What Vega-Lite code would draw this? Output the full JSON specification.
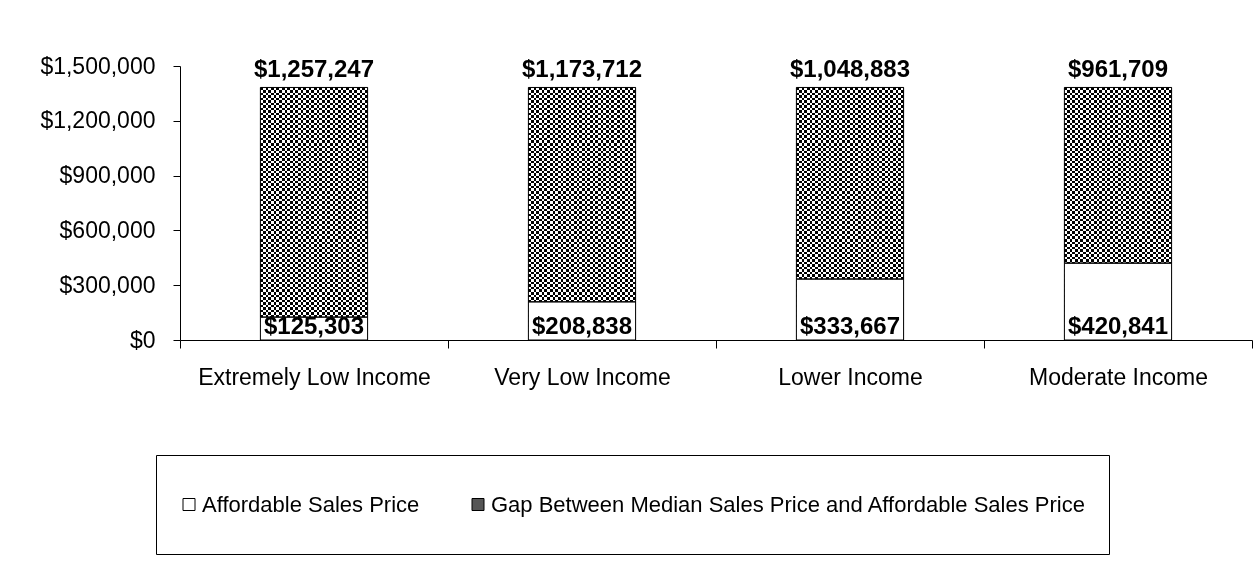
{
  "$schema": "https://vega.github.io/schema/vega-lite/v6.json",
  "width": 1072,
  "height": 274,
  "autosize": "none",
  "padding": {"left": 180, "top": 66, "right": 6, "bottom": 246},
  "background": "white",
  "config": {"view": {"stroke": null}, "font": "Liberation Sans"},
  "data": {
    "values": [
      {"category": "Extremely Low Income", "series": "Affordable Sales Price", "value": 125303},
      {"category": "Extremely Low Income", "series": "Gap Between Median Sales Price and Affordable Sales Price", "value": 1257247},
      {"category": "Very Low Income", "series": "Affordable Sales Price", "value": 208838},
      {"category": "Very Low Income", "series": "Gap Between Median Sales Price and Affordable Sales Price", "value": 1173712},
      {"category": "Lower Income", "series": "Affordable Sales Price", "value": 333667},
      {"category": "Lower Income", "series": "Gap Between Median Sales Price and Affordable Sales Price", "value": 1048883},
      {"category": "Moderate Income", "series": "Affordable Sales Price", "value": 420841},
      {"category": "Moderate Income", "series": "Gap Between Median Sales Price and Affordable Sales Price", "value": 961709}
    ]
  },
  "transform": [
    {"stack": "value", "groupby": ["category"], "sort": [{"field": "series", "order": "ascending"}], "as": ["v0", "v1"]}
  ],
  "encoding": {
    "x": {
      "field": "category",
      "type": "nominal",
      "sort": ["Extremely Low Income", "Very Low Income", "Lower Income", "Moderate Income"],
      "scale": {"paddingInner": 0, "paddingOuter": 0},
      "axis": {
        "title": null,
        "labelAngle": 0,
        "labelLimit": 500,
        "tickBand": "extent",
        "domainColor": "black",
        "tickColor": "black",
        "tickSize": 8,
        "labelFontSize": 23,
        "labelColor": "black",
        "labelPadding": 18,
        "labelFont": "Liberation Sans"
      }
    },
    "y": {
      "field": "v1",
      "type": "quantitative",
      "scale": {"domain": [0, 1500000]},
      "axis": {
        "title": null,
        "values": [0, 300000, 600000, 900000, 1200000, 1500000],
        "format": "$,.0f",
        "grid": false,
        "domainColor": "black",
        "tickColor": "black",
        "tickSize": 7,
        "labelFontSize": 23,
        "labelColor": "black",
        "labelPadding": 18,
        "labelFont": "Liberation Sans"
      }
    }
  },
  "layer": [
    {
      "mark": {"type": "bar", "width": {"band": 0.4}},
      "encoding": {
        "y2": {"field": "v0"},
        "color": {
          "field": "series",
          "type": "nominal",
          "scale": {
            "domain": ["Affordable Sales Price", "Gap Between Median Sales Price and Affordable Sales Price"],
            "range": ["#ffffff", "#555555"]
          },
          "legend": {
            "title": null,
            "orient": "none",
            "legendX": -24,
            "legendY": 389,
            "direction": "horizontal",
            "symbolType": "square",
            "symbolSize": 144,
            "symbolStrokeColor": "black",
            "symbolStrokeWidth": 1,
            "symbolOpacity": 1,
            "labelFontSize": 22,
            "labelColor": "black",
            "labelFont": "Liberation Sans",
            "labelLimit": 1000,
            "columnPadding": 47,
            "labelOffset": 2,
            "padding": 22,
            "strokeColor": "black",
            "clipHeight": 55
          }
        }
      }
    },
    {
      "transform": [{"filter": "datum.series != 'Affordable Sales Price'"}],
      "mark": {
        "type": "bar",
        "width": {"band": 0.4},
        "fill": {
          "gradient": "linear", "x1": 0, "y1": 0, "x2": 0, "y2": 1,
          "stops": [
            {"offset": 0, "color": "#000"}, {"offset": 0.01, "color": "#000"},
            {"offset": 0.01, "color": "#fff"}, {"offset": 0.02, "color": "#fff"},
            {"offset": 0.02, "color": "#000"}, {"offset": 0.03, "color": "#000"},
            {"offset": 0.03, "color": "#fff"}, {"offset": 0.04, "color": "#fff"},
            {"offset": 0.04, "color": "#000"}, {"offset": 0.05, "color": "#000"},
            {"offset": 0.05, "color": "#fff"}, {"offset": 0.06, "color": "#fff"},
            {"offset": 0.06, "color": "#000"}, {"offset": 0.07, "color": "#000"},
            {"offset": 0.07, "color": "#fff"}, {"offset": 0.08, "color": "#fff"},
            {"offset": 0.08, "color": "#000"}, {"offset": 0.09, "color": "#000"},
            {"offset": 0.09, "color": "#fff"}, {"offset": 0.10, "color": "#fff"},
            {"offset": 0.10, "color": "#000"}, {"offset": 0.11, "color": "#000"},
            {"offset": 0.11, "color": "#fff"}, {"offset": 0.12, "color": "#fff"},
            {"offset": 0.12, "color": "#000"}, {"offset": 0.13, "color": "#000"},
            {"offset": 0.13, "color": "#fff"}, {"offset": 0.14, "color": "#fff"},
            {"offset": 0.14, "color": "#000"}, {"offset": 0.15, "color": "#000"},
            {"offset": 0.15, "color": "#fff"}, {"offset": 0.16, "color": "#fff"},
            {"offset": 0.16, "color": "#000"}, {"offset": 0.17, "color": "#000"},
            {"offset": 0.17, "color": "#fff"}, {"offset": 0.18, "color": "#fff"},
            {"offset": 0.18, "color": "#000"}, {"offset": 0.19, "color": "#000"},
            {"offset": 0.19, "color": "#fff"}, {"offset": 0.20, "color": "#fff"},
            {"offset": 0.20, "color": "#000"}, {"offset": 0.21, "color": "#000"},
            {"offset": 0.21, "color": "#fff"}, {"offset": 0.22, "color": "#fff"},
            {"offset": 0.22, "color": "#000"}, {"offset": 0.23, "color": "#000"},
            {"offset": 0.23, "color": "#fff"}, {"offset": 0.24, "color": "#fff"},
            {"offset": 0.24, "color": "#000"}, {"offset": 0.25, "color": "#000"},
            {"offset": 0.25, "color": "#fff"}, {"offset": 0.26, "color": "#fff"},
            {"offset": 0.26, "color": "#000"}, {"offset": 0.27, "color": "#000"},
            {"offset": 0.27, "color": "#fff"}, {"offset": 0.28, "color": "#fff"},
            {"offset": 0.28, "color": "#000"}, {"offset": 0.29, "color": "#000"},
            {"offset": 0.29, "color": "#fff"}, {"offset": 0.30, "color": "#fff"},
            {"offset": 0.30, "color": "#000"}, {"offset": 0.31, "color": "#000"},
            {"offset": 0.31, "color": "#fff"}, {"offset": 0.32, "color": "#fff"},
            {"offset": 0.32, "color": "#000"}, {"offset": 0.33, "color": "#000"},
            {"offset": 0.33, "color": "#fff"}, {"offset": 0.34, "color": "#fff"},
            {"offset": 0.34, "color": "#000"}, {"offset": 0.35, "color": "#000"},
            {"offset": 0.35, "color": "#fff"}, {"offset": 0.36, "color": "#fff"},
            {"offset": 0.36, "color": "#000"}, {"offset": 0.37, "color": "#000"},
            {"offset": 0.37, "color": "#fff"}, {"offset": 0.38, "color": "#fff"},
            {"offset": 0.38, "color": "#000"}, {"offset": 0.39, "color": "#000"},
            {"offset": 0.39, "color": "#fff"}, {"offset": 0.40, "color": "#fff"},
            {"offset": 0.40, "color": "#000"}, {"offset": 0.41, "color": "#000"},
            {"offset": 0.41, "color": "#fff"}, {"offset": 0.42, "color": "#fff"},
            {"offset": 0.42, "color": "#000"}, {"offset": 0.43, "color": "#000"},
            {"offset": 0.43, "color": "#fff"}, {"offset": 0.44, "color": "#fff"},
            {"offset": 0.44, "color": "#000"}, {"offset": 0.45, "color": "#000"},
            {"offset": 0.45, "color": "#fff"}, {"offset": 0.46, "color": "#fff"},
            {"offset": 0.46, "color": "#000"}, {"offset": 0.47, "color": "#000"},
            {"offset": 0.47, "color": "#fff"}, {"offset": 0.48, "color": "#fff"},
            {"offset": 0.48, "color": "#000"}, {"offset": 0.49, "color": "#000"},
            {"offset": 0.49, "color": "#fff"}, {"offset": 0.50, "color": "#fff"},
            {"offset": 0.50, "color": "#000"}, {"offset": 0.51, "color": "#000"},
            {"offset": 0.51, "color": "#fff"}, {"offset": 0.52, "color": "#fff"},
            {"offset": 0.52, "color": "#000"}, {"offset": 0.53, "color": "#000"},
            {"offset": 0.53, "color": "#fff"}, {"offset": 0.54, "color": "#fff"},
            {"offset": 0.54, "color": "#000"}, {"offset": 0.55, "color": "#000"},
            {"offset": 0.55, "color": "#fff"}, {"offset": 0.56, "color": "#fff"},
            {"offset": 0.56, "color": "#000"}, {"offset": 0.57, "color": "#000"},
            {"offset": 0.57, "color": "#fff"}, {"offset": 0.58, "color": "#fff"},
            {"offset": 0.58, "color": "#000"}, {"offset": 0.59, "color": "#000"},
            {"offset": 0.59, "color": "#fff"}, {"offset": 0.60, "color": "#fff"},
            {"offset": 0.60, "color": "#000"}, {"offset": 0.61, "color": "#000"},
            {"offset": 0.61, "color": "#fff"}, {"offset": 0.62, "color": "#fff"},
            {"offset": 0.62, "color": "#000"}, {"offset": 0.63, "color": "#000"},
            {"offset": 0.63, "color": "#fff"}, {"offset": 0.64, "color": "#fff"},
            {"offset": 0.64, "color": "#000"}, {"offset": 0.65, "color": "#000"},
            {"offset": 0.65, "color": "#fff"}, {"offset": 0.66, "color": "#fff"},
            {"offset": 0.66, "color": "#000"}, {"offset": 0.67, "color": "#000"},
            {"offset": 0.67, "color": "#fff"}, {"offset": 0.68, "color": "#fff"},
            {"offset": 0.68, "color": "#000"}, {"offset": 0.69, "color": "#000"},
            {"offset": 0.69, "color": "#fff"}, {"offset": 0.70, "color": "#fff"},
            {"offset": 0.70, "color": "#000"}, {"offset": 0.71, "color": "#000"},
            {"offset": 0.71, "color": "#fff"}, {"offset": 0.72, "color": "#fff"},
            {"offset": 0.72, "color": "#000"}, {"offset": 0.73, "color": "#000"},
            {"offset": 0.73, "color": "#fff"}, {"offset": 0.74, "color": "#fff"},
            {"offset": 0.74, "color": "#000"}, {"offset": 0.75, "color": "#000"},
            {"offset": 0.75, "color": "#fff"}, {"offset": 0.76, "color": "#fff"},
            {"offset": 0.76, "color": "#000"}, {"offset": 0.77, "color": "#000"},
            {"offset": 0.77, "color": "#fff"}, {"offset": 0.78, "color": "#fff"},
            {"offset": 0.78, "color": "#000"}, {"offset": 0.79, "color": "#000"},
            {"offset": 0.79, "color": "#fff"}, {"offset": 0.80, "color": "#fff"},
            {"offset": 0.80, "color": "#000"}, {"offset": 0.81, "color": "#000"},
            {"offset": 0.81, "color": "#fff"}, {"offset": 0.82, "color": "#fff"},
            {"offset": 0.82, "color": "#000"}, {"offset": 0.83, "color": "#000"},
            {"offset": 0.83, "color": "#fff"}, {"offset": 0.84, "color": "#fff"},
            {"offset": 0.84, "color": "#000"}, {"offset": 0.85, "color": "#000"},
            {"offset": 0.85, "color": "#fff"}, {"offset": 0.86, "color": "#fff"},
            {"offset": 0.86, "color": "#000"}, {"offset": 0.87, "color": "#000"},
            {"offset": 0.87, "color": "#fff"}, {"offset": 0.88, "color": "#fff"},
            {"offset": 0.88, "color": "#000"}, {"offset": 0.89, "color": "#000"},
            {"offset": 0.89, "color": "#fff"}, {"offset": 0.90, "color": "#fff"},
            {"offset": 0.90, "color": "#000"}, {"offset": 0.91, "color": "#000"},
            {"offset": 0.91, "color": "#fff"}, {"offset": 0.92, "color": "#fff"},
            {"offset": 0.92, "color": "#000"}, {"offset": 0.93, "color": "#000"},
            {"offset": 0.93, "color": "#fff"}, {"offset": 0.94, "color": "#fff"},
            {"offset": 0.94, "color": "#000"}, {"offset": 0.95, "color": "#000"},
            {"offset": 0.95, "color": "#fff"}, {"offset": 0.96, "color": "#fff"},
            {"offset": 0.96, "color": "#000"}, {"offset": 0.97, "color": "#000"},
            {"offset": 0.97, "color": "#fff"}, {"offset": 0.98, "color": "#fff"},
            {"offset": 0.98, "color": "#000"}, {"offset": 0.99, "color": "#000"},
            {"offset": 0.99, "color": "#fff"}, {"offset": 1, "color": "#fff"}
          ]
        }
      },
      "encoding": {"y2": {"datum": 0}}
    },
    {
      "transform": [{"filter": "datum.series != 'Affordable Sales Price'"}],
      "mark": {
        "type": "bar",
        "width": {"band": 0.4},
        "blend": "difference",
        "fill": {
          "gradient": "linear", "x1": 0, "y1": 0, "x2": 1, "y2": 0,
          "stops": [
            {"offset": 0, "color": "#000"}, {"offset": 0.025, "color": "#000"},
            {"offset": 0.025, "color": "#fff"}, {"offset": 0.05, "color": "#fff"},
            {"offset": 0.05, "color": "#000"}, {"offset": 0.075, "color": "#000"},
            {"offset": 0.075, "color": "#fff"}, {"offset": 0.1, "color": "#fff"},
            {"offset": 0.1, "color": "#000"}, {"offset": 0.125, "color": "#000"},
            {"offset": 0.125, "color": "#fff"}, {"offset": 0.15, "color": "#fff"},
            {"offset": 0.15, "color": "#000"}, {"offset": 0.175, "color": "#000"},
            {"offset": 0.175, "color": "#fff"}, {"offset": 0.2, "color": "#fff"},
            {"offset": 0.2, "color": "#000"}, {"offset": 0.225, "color": "#000"},
            {"offset": 0.225, "color": "#fff"}, {"offset": 0.25, "color": "#fff"},
            {"offset": 0.25, "color": "#000"}, {"offset": 0.275, "color": "#000"},
            {"offset": 0.275, "color": "#fff"}, {"offset": 0.3, "color": "#fff"},
            {"offset": 0.3, "color": "#000"}, {"offset": 0.325, "color": "#000"},
            {"offset": 0.325, "color": "#fff"}, {"offset": 0.35, "color": "#fff"},
            {"offset": 0.35, "color": "#000"}, {"offset": 0.375, "color": "#000"},
            {"offset": 0.375, "color": "#fff"}, {"offset": 0.4, "color": "#fff"},
            {"offset": 0.4, "color": "#000"}, {"offset": 0.425, "color": "#000"},
            {"offset": 0.425, "color": "#fff"}, {"offset": 0.45, "color": "#fff"},
            {"offset": 0.45, "color": "#000"}, {"offset": 0.475, "color": "#000"},
            {"offset": 0.475, "color": "#fff"}, {"offset": 0.5, "color": "#fff"},
            {"offset": 0.5, "color": "#000"}, {"offset": 0.525, "color": "#000"},
            {"offset": 0.525, "color": "#fff"}, {"offset": 0.55, "color": "#fff"},
            {"offset": 0.55, "color": "#000"}, {"offset": 0.575, "color": "#000"},
            {"offset": 0.575, "color": "#fff"}, {"offset": 0.6, "color": "#fff"},
            {"offset": 0.6, "color": "#000"}, {"offset": 0.625, "color": "#000"},
            {"offset": 0.625, "color": "#fff"}, {"offset": 0.65, "color": "#fff"},
            {"offset": 0.65, "color": "#000"}, {"offset": 0.675, "color": "#000"},
            {"offset": 0.675, "color": "#fff"}, {"offset": 0.7, "color": "#fff"},
            {"offset": 0.7, "color": "#000"}, {"offset": 0.725, "color": "#000"},
            {"offset": 0.725, "color": "#fff"}, {"offset": 0.75, "color": "#fff"},
            {"offset": 0.75, "color": "#000"}, {"offset": 0.775, "color": "#000"},
            {"offset": 0.775, "color": "#fff"}, {"offset": 0.8, "color": "#fff"},
            {"offset": 0.8, "color": "#000"}, {"offset": 0.825, "color": "#000"},
            {"offset": 0.825, "color": "#fff"}, {"offset": 0.85, "color": "#fff"},
            {"offset": 0.85, "color": "#000"}, {"offset": 0.875, "color": "#000"},
            {"offset": 0.875, "color": "#fff"}, {"offset": 0.9, "color": "#fff"},
            {"offset": 0.9, "color": "#000"}, {"offset": 0.925, "color": "#000"},
            {"offset": 0.925, "color": "#fff"}, {"offset": 0.95, "color": "#fff"},
            {"offset": 0.95, "color": "#000"}, {"offset": 0.975, "color": "#000"},
            {"offset": 0.975, "color": "#fff"}, {"offset": 1, "color": "#fff"}
          ]
        }
      },
      "encoding": {"y2": {"datum": 0}}
    },
    {
      "transform": [{"filter": "datum.series == 'Affordable Sales Price'"}],
      "mark": {"type": "bar", "width": {"band": 0.4}, "fill": "#ffffff", "stroke": "black", "strokeWidth": 1},
      "encoding": {"y2": {"field": "v0"}}
    },
    {
      "transform": [{"filter": "datum.series != 'Affordable Sales Price'"}],
      "mark": {"type": "bar", "width": {"band": 0.4}, "fill": "#ffffff", "fillOpacity": 0, "stroke": "black", "strokeWidth": 1},
      "encoding": {"y2": {"field": "v0"}}
    },
    {
      "transform": [{"filter": "datum.series == 'Affordable Sales Price'"}],
      "mark": {"type": "text", "fontWeight": "bold", "fontSize": 24, "baseline": "alphabetic", "dy": -6, "color": "black", "font": "Liberation Sans"},
      "encoding": {
        "y": {
          "field": "v0",
          "type": "quantitative",
          "scale": {"domain": [0, 1500000]},
          "axis": {
            "title": null,
            "values": [0, 300000, 600000, 900000, 1200000, 1500000],
            "format": "$,.0f",
            "grid": false,
            "domainColor": "black",
            "tickColor": "black",
            "tickSize": 7,
            "labelFontSize": 23,
            "labelColor": "black",
            "labelPadding": 18,
            "labelFont": "Liberation Sans"
          }
        },
        "text": {"field": "value", "type": "quantitative", "format": "$,.0f"}
      }
    },
    {
      "transform": [{"filter": "datum.series != 'Affordable Sales Price'"}],
      "mark": {"type": "text", "fontWeight": "bold", "fontSize": 24, "baseline": "alphabetic", "dy": -10, "color": "black", "font": "Liberation Sans"},
      "encoding": {
        "text": {"field": "value", "type": "quantitative", "format": "$,.0f"}
      }
    }
  ]
}
